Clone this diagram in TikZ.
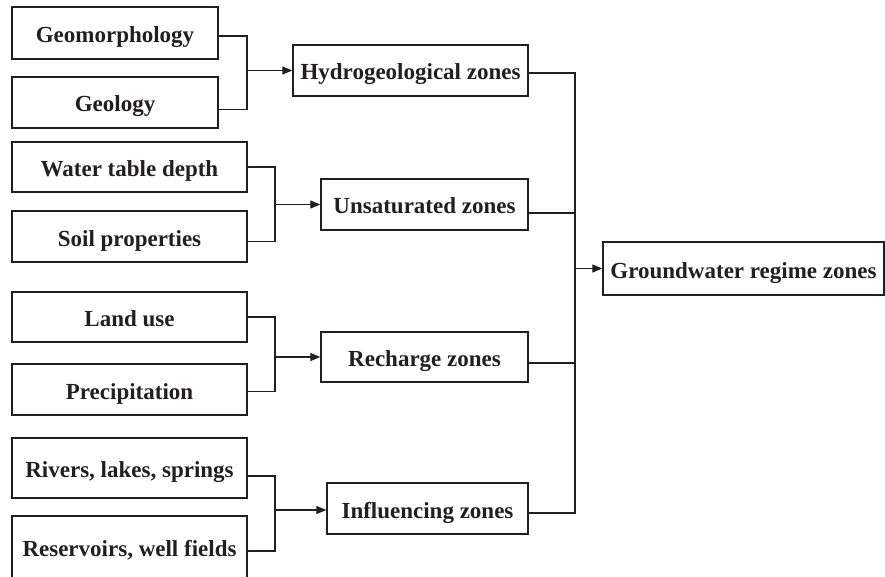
\documentclass[tikz,border=0pt]{standalone}
\usepackage{fontspec}
\setmainfont{Liberation Serif}
\usetikzlibrary{arrows.meta}
\definecolor{ink}{HTML}{231F20}
\begin{document}
\begin{tikzpicture}[x=1pt,y=-1pt,
  box/.style={draw=ink, line width=1.4pt, inner sep=0pt, text=ink,
    font=\fontsize{23}{27}\selectfont\bfseries, text height=19pt, text depth=0pt},
  link/.style={draw=ink, line width=1.2pt},
  arr/.style={link, -{Triangle[length=10pt,width=8pt]}}]
\useasboundingbox (0,0) rectangle (885,577);
\clip (0,0) rectangle (885,577);
\fill[white] (0,0) rectangle (885,577);
% left column
\node[box, minimum width=206pt, minimum height=52pt] (geo)  at (115,33)    {Geomorphology};
\node[box, minimum width=206pt, minimum height=51pt] (geol) at (115,102.5) {Geology};
\node[box, minimum width=235pt, minimum height=50pt] (wtd)  at (129.5,167)   {Water table depth};
\node[box, minimum width=235pt, minimum height=51pt] (soil) at (129.5,236.5) {Soil properties};
\node[box, minimum width=235pt, minimum height=50pt] (land) at (129.5,317)   {Land use};
\node[box, minimum width=235pt, minimum height=51pt] (prec) at (129.5,389.5) {Precipitation};
\node[box, minimum width=235pt, minimum height=60pt] (riv)  at (129.5,468)   {Rivers, lakes, springs};
\node[box, minimum width=235pt, minimum height=62pt] (res)  at (129.5,547)   {Reservoirs, well fields};
% middle column
\node[box, minimum width=235pt, minimum height=51pt] (hyd)  at (410.5,70.5)  {Hydrogeological zones};
\node[box, minimum width=207pt, minimum height=51pt] (uns)  at (424.5,204.5) {Unsaturated zones};
\node[box, minimum width=207pt, minimum height=50pt] (rech) at (424.5,357)   {Recharge zones};
\node[box, minimum width=201pt, minimum height=51pt] (inf)  at (427.5,508.5) {Influencing zones};
% right
\node[box, minimum width=281pt, minimum height=53pt] (gw)   at (743.5,268.5) {Groundwater regime zones};
% junction coordinates
\coordinate (j1) at (247,0);
\coordinate (j2) at (275,0);
\coordinate (m)  at (575,0);
% connection points on the boxes
\coordinate (geoE)  at ([yshift=-3pt]geo.east);
\coordinate (geolE) at ([yshift=-7pt]geol.east);
\coordinate (soilE) at ([yshift=-5pt]soil.east);
\coordinate (precE) at ([yshift=-2pt]prec.east);
\coordinate (rivE)  at ([yshift=-8pt]riv.east);
\coordinate (resE)  at ([yshift=-4pt]res.east);
\coordinate (infW)  at ([yshift=-1.5pt]inf.west);
\coordinate (hydE)  at ([yshift=-2.5pt]hyd.east);
\coordinate (unsE)  at ([yshift=-8.5pt]uns.east);
\coordinate (rechE) at ([yshift=-6pt]rech.east);
\coordinate (infE)  at ([yshift=-4.5pt]inf.east);
% brackets
\draw[link] (geoE) -| (j1 |- geolE) -- (geolE);
\draw[arr] (j1 |- hyd.west) -- (hyd.west);
\draw[link] (wtd.east) -| (j2 |- soilE) -- (soilE);
\draw[arr] (j2 |- uns.west) -- (uns.west);
\draw[link] (land.east) -| (j2 |- precE) -- (precE);
\draw[arr] (j2 |- rech.west) -- (rech.west);
\draw[link] (rivE) -| (j2 |- resE) -- (resE);
\draw[arr] (j2 |- infW) -- (infW);
% collector
\draw[link] (hydE) -| (m |- infE) -- (infE);
\draw[link] (unsE) -- (m |- unsE);
\draw[link] (rechE) -- (m |- rechE);
\draw[arr] (m |- gw.west) -- (gw.west);
\end{tikzpicture}
\end{document}
